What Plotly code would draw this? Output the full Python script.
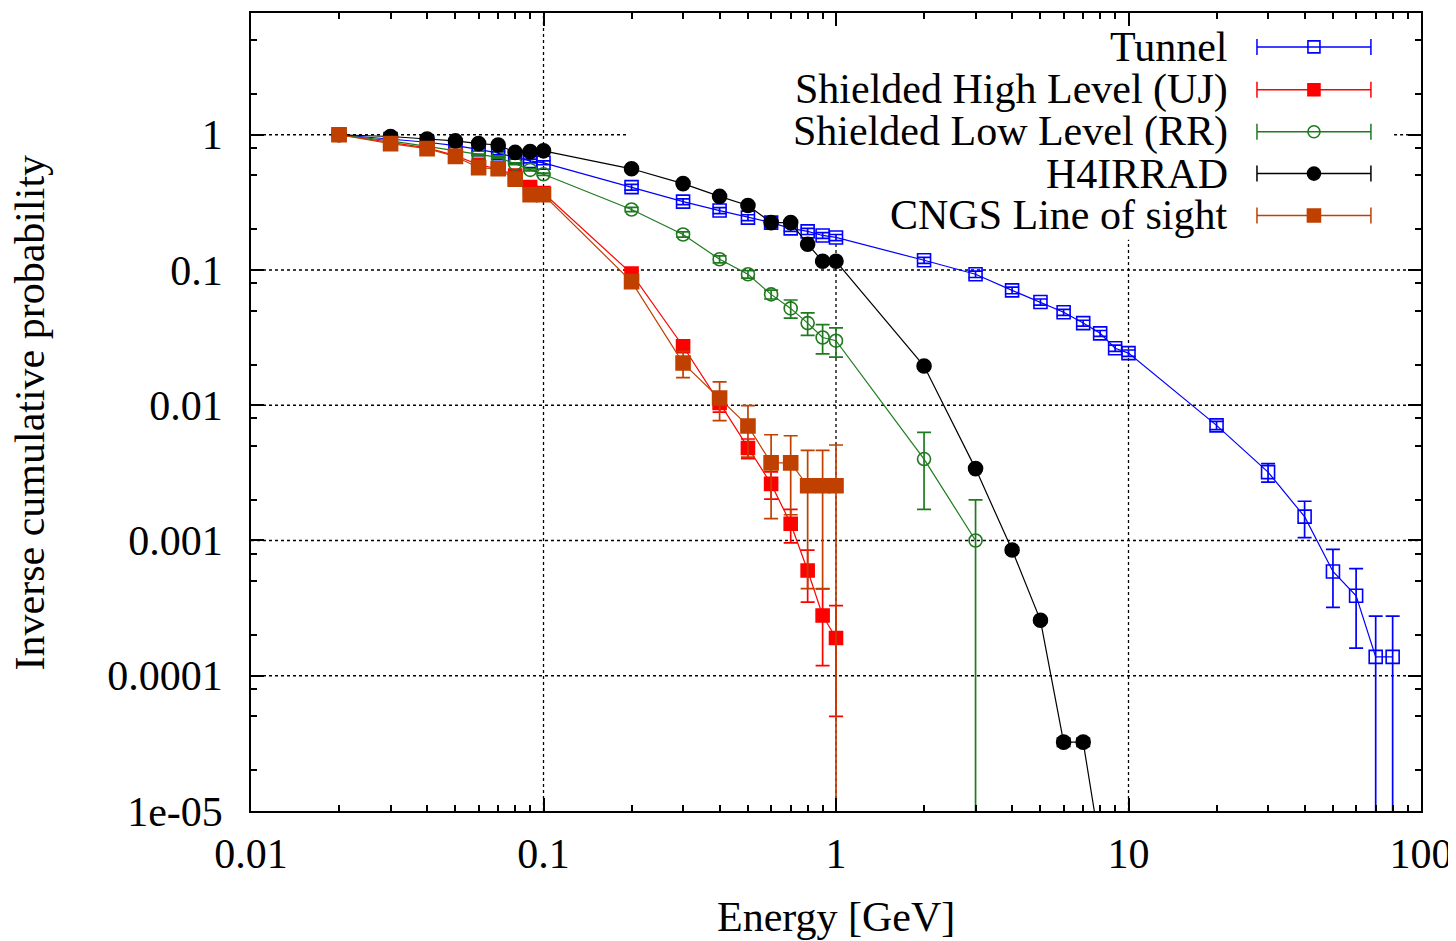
import math
import plotly.graph_objects as go

# ---------------- data ----------------
E_low = [0.02, 0.03, 0.04, 0.05, 0.06, 0.07, 0.08, 0.09, 0.1]
E_mid = [0.2, 0.3, 0.4, 0.5, 0.6, 0.7, 0.8, 0.9, 1.0]

tunnel_E = E_low + E_mid + [2, 3, 4, 5, 6, 7, 8, 9, 10, 20, 30, 40, 50, 60, 70, 80]
tunnel_P = [1.0, 0.93, 0.88, 0.83, 0.78, 0.73, 0.68, 0.64, 0.62,
            0.41, 0.32, 0.275, 0.244, 0.224, 0.203, 0.193, 0.18, 0.174,
            0.118, 0.093, 0.0707, 0.058, 0.0487, 0.0405, 0.034, 0.0264, 0.0243,
            0.0071, 0.0032, 0.0015, 0.00059, 0.00039, 0.000138, 0.000138]
tunnel_dP = [0.02, 0.02, 0.02, 0.02, 0.02, 0.02, 0.02, 0.02, 0.02,
             0.02, 0.016, 0.014, 0.012, 0.011, 0.01, 0.01, 0.009, 0.009,
             0.006, 0.005, 0.004, 0.003, 0.0025, 0.002, 0.0017, 0.0014, 0.0013,
             0.0005, 0.0005, 0.00045, 0.00027, 0.00023, 0.000138, 0.000138]

uj_E = E_low + E_mid
uj_P = [1.0, 0.88, 0.80, 0.70, 0.60, 0.56, 0.50, 0.41, 0.37,
        0.094, 0.0273, 0.0104, 0.00483, 0.00262, 0.00133, 0.0006, 0.000279, 0.00019]
uj_dP = [0.01, 0.01, 0.01, 0.01, 0.01, 0.01, 0.01, 0.01, 0.01,
         0.005, 0.002, 0.0015, 0.0008, 0.0006, 0.00037, 0.00025, 0.00016, 0.00014]

rr_E = E_low + E_mid + [2, 3]
rr_P = [1.0, 0.90, 0.82, 0.76, 0.71, 0.68, 0.61, 0.55, 0.51,
        0.28, 0.183, 0.12, 0.093, 0.066, 0.052, 0.0405, 0.0317, 0.030,
        0.0040, 0.0010]
rr_dP = [0.01, 0.01, 0.01, 0.01, 0.01, 0.01, 0.01, 0.01, 0.01,
         0.01, 0.008, 0.007, 0.006, 0.005, 0.008, 0.0077, 0.0077, 0.0073,
         0.0023, 0.0010]

h4_E = E_low + E_mid + [2, 3, 4, 5, 6, 7, 8]
h4_P = [1.0, 0.97, 0.93, 0.90, 0.86, 0.84, 0.74, 0.75, 0.76,
        0.56, 0.435, 0.35, 0.30, 0.224, 0.224, 0.155, 0.116, 0.116,
        0.0195, 0.0034, 0.00085, 0.000257, 0.0000323, 0.0000323, 0.0000054]
h4_dP = [0.005, 0.005, 0.005, 0.005, 0.005, 0.005, 0.005, 0.005, 0.005,
         0.005, 0.004, 0.004, 0.003, 0.003, 0.003, 0.002, 0.002, 0.002,
         0.0005, 0.0001, 0.00004, 0.00001, 0.0000023, 0.0000023, 0.000001]

cngs_E = E_low + E_mid
cngs_P = [1.0, 0.86, 0.79, 0.69, 0.57, 0.56, 0.47, 0.36, 0.36,
          0.082, 0.0205, 0.0113, 0.00703, 0.00375, 0.00375, 0.00254, 0.00254, 0.00254]
cngs_dP = [0.01, 0.01, 0.01, 0.01, 0.01, 0.01, 0.01, 0.01, 0.01,
           0.006, 0.0045, 0.0036, 0.0029, 0.0023, 0.0022, 0.0021, 0.0021, 0.00254]

series_names = ["Tunnel", "Shielded High Level (UJ)", "Shielded Low Level (RR)",
                "H4IRRAD", "CNGS Line of sight"]
series_colors = ["#0000ff", "#ff0000", "#1f7a1f", "#000000", "#c04000"]
series_symbols = ["square-open", "square", "circle-open", "circle", "square"]
series_sizes = [13, 13, 13, 14, 14]
series_data = [(tunnel_E, tunnel_P, tunnel_dP), (uj_E, uj_P, uj_dP),
               (rr_E, rr_P, rr_dP), (h4_E, h4_P, h4_dP), (cngs_E, cngs_P, cngs_dP)]

x_tickvals = [0.01, 0.1, 1, 10, 100]
x_ticktext = ["0.01", "0.1", "1", "10", "100"]
y_tickvals = [1e-5, 1e-4, 1e-3, 1e-2, 1e-1, 1]
y_ticktext = ["1e-05", "0.0001", "0.001", "0.01", "0.1", "1"]
x_minor = [m * 10 ** k for k in range(-2, 2) for m in range(2, 10)]
y_minor = [m * 10 ** k for k in range(-5, 1) for m in (2, 5, 8)]

X_RANGE = [-2, 2]
Y_RANGE = [-5, 0.9]

FONT = "Liberation Serif, Times New Roman, serif"
FS = 42

# key box (in plot-domain fractions): the grid is hidden behind it
KEY_X0, KEY_X1, KEY_Y0 = 0.3205, 0.977, 0.716

fig = go.Figure()

for name, col, sym, sz, (ex, py, dp) in zip(series_names, series_colors, series_symbols,
                                             series_sizes, series_data):
    fig.add_trace(go.Scatter(
        x=ex, y=py, mode="lines+markers", name=name, showlegend=False,
        line=dict(color=col, width=1.2),
        marker=dict(symbol=sym, size=sz, color=col, line=dict(color=col, width=1.6)),
        error_y=dict(type="data", array=dp, symmetric=True, color=col,
                     thickness=1.7, width=7),
    ))

# ---- custom key (text left, sample right) on an overlay axis ----
key_rows = [0.9575, 0.90375, 0.85125, 0.79875, 0.74625]
key_text_x = 0.8368
key_marker_x = 0.9085
key_half = 0.0487
for name, col, sym, sz, ky in zip(series_names, series_colors, series_symbols,
                                  series_sizes, key_rows):
    fig.add_trace(go.Scatter(
        x=[key_marker_x], y=[ky], xaxis="x2", yaxis="y2", mode="markers",
        showlegend=False, hoverinfo="skip",
        marker=dict(symbol=sym, size=sz - 1, color=col, line=dict(color=col, width=1.6)),
        error_x=dict(type="data", array=[key_half], symmetric=True, color=col,
                     thickness=1.5, width=8),
    ))
    fig.add_annotation(x=key_text_x, y=ky, xref="paper", yref="paper",
                       text=name, showarrow=False, xanchor="right", yanchor="middle",
                       font=dict(family=FONT, size=FS, color="#000000"))


# ---- dotted grid drawn as shapes so the key box can interrupt it ----
def xfrac(v):
    return (math.log10(v) - X_RANGE[0]) / (X_RANGE[1] - X_RANGE[0])


def yfrac(v):
    return (math.log10(v) - Y_RANGE[0]) / (Y_RANGE[1] - Y_RANGE[0])


grid_line = dict(color="black", width=1.3, dash="dot")
for v in x_tickvals[1:-1]:
    fx = xfrac(v)
    top = 1.0 if fx < KEY_X0 or fx > KEY_X1 else KEY_Y0
    fig.add_shape(type="line", xref="x domain", yref="y domain",
                  x0=fx, x1=fx, y0=0, y1=top, line=grid_line, layer="below")
for v in y_tickvals[1:]:
    fy = yfrac(v)
    if fy > KEY_Y0:
        segs = [(0, KEY_X0), (KEY_X1, 1)]
    else:
        segs = [(0, 1)]
    for a, b in segs:
        fig.add_shape(type="line", xref="x domain", yref="y domain",
                      x0=a, x1=b, y0=fy, y1=fy, line=grid_line, layer="below")

# axis titles
fig.add_annotation(x=0.5, y=-0.1325, xref="paper", yref="paper", text="Energy [GeV]",
                   showarrow=False, xanchor="center", yanchor="middle",
                   font=dict(family=FONT, size=FS, color="#000000"))
fig.add_annotation(x=-0.1885, y=0.5, xref="paper", yref="paper",
                   text="Inverse cumulative probability", textangle=-90,
                   showarrow=False, xanchor="center", yanchor="middle",
                   font=dict(family=FONT, size=FS, color="#000000"))

axis_common = dict(
    showline=True, linecolor="black", linewidth=1.5, mirror="allticks",
    ticks="inside", ticklen=13, tickwidth=1.5, tickcolor="black",
    showgrid=False, zeroline=False,
    tickfont=dict(family=FONT, size=FS, color="#000000"),
)

fig.update_layout(
    width=1448, height=933,
    margin=dict(l=243, r=35, t=3, b=130),
    paper_bgcolor="white", plot_bgcolor="white",
    showlegend=False,
    xaxis=dict(type="log", range=X_RANGE, tickmode="array",
               tickvals=x_tickvals, ticktext=x_ticktext,
               minor=dict(tickmode="array", tickvals=x_minor, ticks="inside",
                          ticklen=6, tickwidth=1.5, tickcolor="black", showgrid=False),
               ticklabelstandoff=5,
               **axis_common),
    yaxis=dict(type="log", range=Y_RANGE, tickmode="array",
               tickvals=y_tickvals, ticktext=y_ticktext,
               minor=dict(tickmode="array", tickvals=y_minor, ticks="inside",
                          ticklen=6, tickwidth=1.5, tickcolor="black", showgrid=False),
               ticklabelstandoff=18,
               **axis_common),
    xaxis2=dict(overlaying="x", range=[0, 1], visible=False),
    yaxis2=dict(overlaying="y", range=[0, 1], visible=False),
)

fig.write_html("out.html")
